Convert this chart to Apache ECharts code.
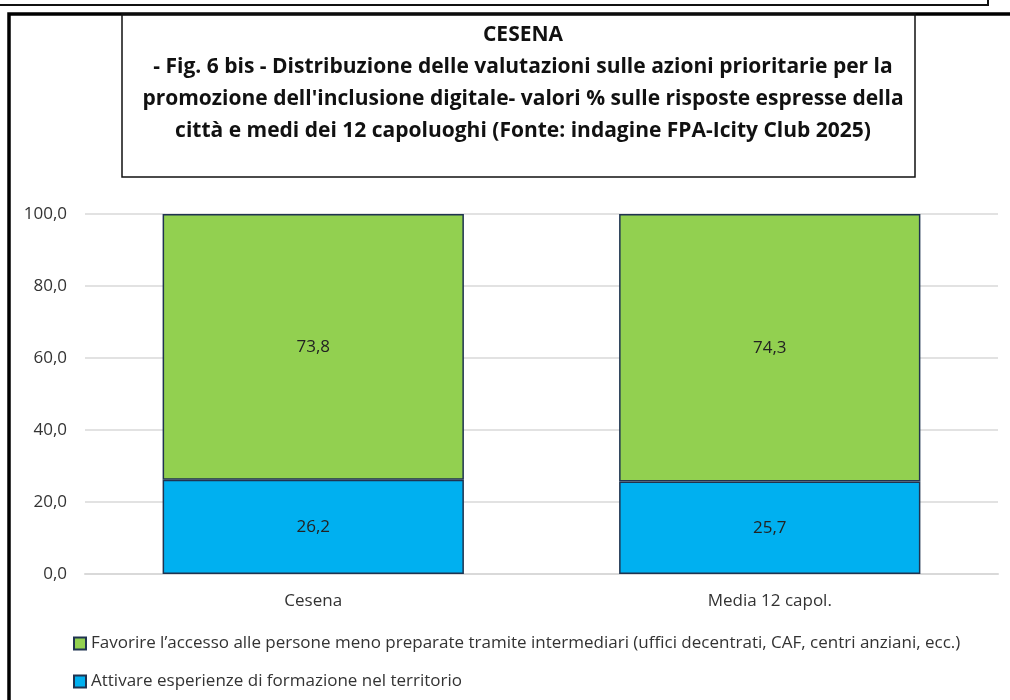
<!DOCTYPE html>
<html>
<head>
<meta charset="utf-8">
<script src="https://cdn.jsdelivr.net/npm/echarts@6/dist/echarts.min.js"></script>
<style>
  html, body { margin: 0; padding: 0; background: #fff; }
  #chart { width: 1010px; height: 700px; }
</style>
</head>
<body>
<div id="chart"></div>
<script>
// dati
const categories = ['Cesena', 'Media 12 capol.'];
const formazione = [26.2, 25.7];
const intermediari = [73.8, 74.3];
const yTicks = [0, 20, 40, 60, 80, 100];

const nameFormazione = 'Attivare esperienze di formazione nel territorio';
const nameIntermediari = 'Favorire l\u2019accesso alle persone meno preparate tramite intermediari (uffici decentrati, CAF, centri anziani, ecc.)';

const titleLines = [
  'CESENA',
  '- Fig. 6 bis - Distribuzione delle valutazioni sulle azioni prioritarie per la',
  'promozione dell\'inclusione digitale- valori % sulle risposte espresse della',
  'citt\u00e0 e medi dei 12 capoluoghi (Fonte: indagine FPA-Icity Club 2025)'
];

const fontFam = '"Open Sans", "Noto Sans", sans-serif';
const fmt = v => v.toFixed(1).replace('.', ',');

const chart = echarts.init(document.getElementById('chart'));

chart.setOption({
  animation: false,
  backgroundColor: '#fff',
  textStyle: { fontFamily: fontFam },
  title: {
    text: titleLines.join('\n'),
    left: 518,
    top: 14,
    textAlign: 'center',
    textStyle: {
      fontFamily: fontFam,
      fontWeight: 'bold',
      fontSize: 21,
      lineHeight: 32,
      color: '#111'
    }
  },
  graphic: [
    { type: 'rect', shape: { x: -5, y: -20, width: 993, height: 25 },
      style: { fill: 'none', stroke: '#111', lineWidth: 2 } },
    { type: 'rect', shape: { x: 9, y: 14, width: 1020, height: 700 },
      style: { fill: 'none', stroke: '#000', lineWidth: 3.5 } },
    { type: 'rect', shape: { x: 122, y: 14, width: 793, height: 163 },
      style: { fill: 'none', stroke: '#111', lineWidth: 1.5 } }
  ],
  legend: {
    orient: 'vertical',
    left: 68,
    top: 630,
    itemGap: 21,
    itemWidth: 12,
    itemHeight: 12,
    icon: 'rect',
    data: [nameIntermediari, nameFormazione],
    textStyle: { fontSize: 17, color: '#333', fontFamily: fontFam }
  },
  grid: { left: 85, right: 12, top: 214, bottom: 126, containLabel: false },
  xAxis: {
    type: 'category',
    data: categories,
    axisLine: { lineStyle: { color: '#d9d9d9', width: 2 } },
    axisTick: { show: false },
    axisLabel: { fontSize: 17, color: '#333', margin: 19 }
  },
  yAxis: {
    type: 'value',
    min: yTicks[0],
    max: yTicks[yTicks.length - 1],
    interval: 20,
    axisLine: { show: false },
    axisTick: { show: false },
    splitLine: { lineStyle: { color: '#d9d9d9', width: 1.5 } },
    axisLabel: { fontSize: 17, color: '#333', margin: 18, formatter: v => fmt(v) }
  },
  series: [
    {
      name: nameFormazione,
      type: 'bar',
      stack: 'tot',
      barWidth: '66%',
      data: formazione,
      itemStyle: { color: '#00b0f0', borderColor: '#1f3350', borderWidth: 1.5 },
      label: { show: true, position: 'inside', fontSize: 17, color: '#222', formatter: p => fmt(p.value) }
    },
    {
      name: nameIntermediari,
      type: 'bar',
      stack: 'tot',
      barWidth: '66%',
      data: intermediari,
      itemStyle: { color: '#92d050', borderColor: '#1f3350', borderWidth: 1.5 },
      label: { show: true, position: 'inside', fontSize: 17, color: '#222', formatter: p => fmt(p.value) }
    }
  ]
});
</script>
</body>
</html>
